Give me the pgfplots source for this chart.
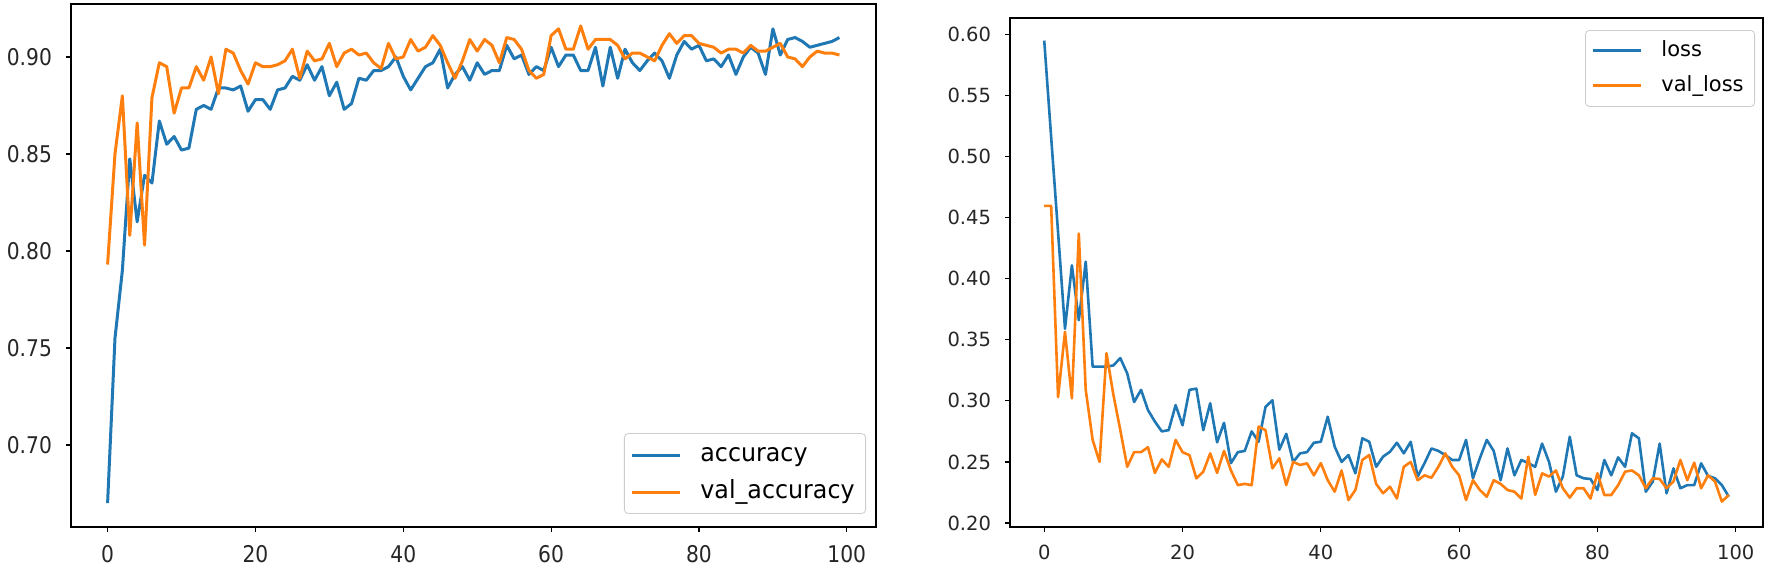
\documentclass[border=0pt]{standalone}
\usepackage{pgfplots}
\pgfplotsset{compat=1.18}
\usepackage{pgfplotstable}
\usepackage{fontspec}
\setmainfont{DejaVu Sans}
\newfontfamily\condfont[FakeStretch=0.88]{DejaVu Sans}
\newfontfamily\legfont[FakeStretch=0.95]{DejaVu Sans}

\definecolor{tabblue}{HTML}{1F77B4}
\definecolor{taborange}{HTML}{FF7F0E}

% epoch, accuracy, val_accuracy
\pgfplotstableread{
ep acc val
0 0.670 0.793
1 0.755 0.850
2 0.790 0.880
3 0.8475 0.808
4 0.815 0.866
5 0.839 0.803
6 0.835 0.879
7 0.867 0.897
8 0.855 0.895
9 0.859 0.871
10 0.852 0.884
11 0.853 0.884
12 0.873 0.895
13 0.875 0.888
14 0.873 0.900
15 0.884 0.881
16 0.884 0.904
17 0.883 0.902
18 0.885 0.893
19 0.872 0.886
20 0.878 0.897
21 0.878 0.895
22 0.873 0.895
23 0.883 0.896
24 0.884 0.898
25 0.890 0.904
26 0.888 0.889
27 0.896 0.903
28 0.888 0.898
29 0.895 0.899
30 0.880 0.907
31 0.887 0.895
32 0.873 0.902
33 0.876 0.904
34 0.889 0.901
35 0.888 0.902
36 0.893 0.897
37 0.893 0.894
38 0.895 0.907
39 0.900 0.899
40 0.890 0.900
41 0.883 0.909
42 0.889 0.903
43 0.895 0.905
44 0.897 0.911
45 0.904 0.906
46 0.884 0.897
47 0.891 0.889
48 0.895 0.898
49 0.888 0.909
50 0.897 0.903
51 0.891 0.909
52 0.893 0.906
53 0.893 0.897
54 0.906 0.910
55 0.899 0.909
56 0.901 0.904
57 0.891 0.893
58 0.895 0.889
59 0.893 0.891
60 0.905 0.911
61 0.895 0.9145
62 0.901 0.904
63 0.901 0.904
64 0.893 0.916
65 0.893 0.904
66 0.905 0.909
67 0.885 0.909
68 0.905 0.909
69 0.889 0.906
70 0.904 0.899
71 0.897 0.902
72 0.893 0.902
73 0.898 0.900
74 0.902 0.898
75 0.898 0.906
76 0.889 0.912
77 0.901 0.907
78 0.908 0.911
79 0.904 0.911
80 0.906 0.907
81 0.898 0.906
82 0.899 0.905
83 0.895 0.902
84 0.901 0.904
85 0.891 0.904
86 0.900 0.902
87 0.905 0.906
88 0.902 0.903
89 0.891 0.903
90 0.9145 0.905
91 0.901 0.907
92 0.909 0.900
93 0.910 0.899
94 0.908 0.895
95 0.905 0.900
96 0.906 0.903
97 0.907 0.902
98 0.908 0.902
99 0.910 0.901
}\acctable

% epoch, loss, val_loss
\pgfplotstableread{
ep loss val
0 0.595 0.4597
1 0.516 0.4597
2 0.438 0.303
3 0.359 0.3565
4 0.411 0.302
5 0.366 0.437
6 0.414 0.309
7 0.328 0.268
8 0.328 0.250
9 0.328 0.339
10 0.329 0.305
11 0.335 0.276
12 0.3225 0.246
13 0.299 0.258
14 0.309 0.258
15 0.2925 0.262
16 0.283 0.241
17 0.275 0.252
18 0.276 0.246
19 0.2965 0.268
20 0.280 0.258
21 0.309 0.2555
22 0.310 0.2365
23 0.276 0.242
24 0.298 0.257
25 0.266 0.241
26 0.282 0.259
27 0.249 0.243
28 0.258 0.231
29 0.259 0.232
30 0.275 0.231
31 0.2665 0.279
32 0.295 0.276
33 0.3005 0.2447
34 0.260 0.253
35 0.273 0.231
36 0.250 0.250
37 0.257 0.2475
38 0.258 0.2488
39 0.2657 0.239
40 0.2665 0.249
41 0.287 0.235
42 0.2625 0.2256
43 0.250 0.243
44 0.2556 0.2188
45 0.2407 0.227
46 0.2693 0.2516
47 0.2665 0.2556
48 0.246 0.232
49 0.2543 0.2243
50 0.2583 0.2297
51 0.2657 0.220
52 0.257 0.246
53 0.2665 0.250
54 0.238 0.235
55 0.249 0.239
56 0.261 0.237
57 0.259 0.246
58 0.2556 0.257
59 0.2516 0.246
60 0.2516 0.239
61 0.268 0.2188
62 0.2366 0.235
63 0.253 0.227
64 0.268 0.2215
65 0.259 0.235
66 0.235 0.232
67 0.261 0.227
68 0.239 0.2256
69 0.2516 0.220
70 0.249 0.2543
71 0.246 0.223
72 0.265 0.2406
73 0.250 0.238
74 0.2256 0.243
75 0.238 0.2284
76 0.2706 0.2207
77 0.239 0.2284
78 0.2366 0.2284
79 0.236 0.220
80 0.227 0.2407
81 0.2516 0.2229
82 0.239 0.2229
83 0.2537 0.231
84 0.246 0.242
85 0.2734 0.243
86 0.2693 0.239
87 0.2256 0.2284
88 0.2338 0.2366
89 0.265 0.236
90 0.2243 0.2284
91 0.2447 0.234
92 0.2284 0.2516
93 0.231 0.235
94 0.231 0.2494
95 0.2488 0.2284
96 0.2385 0.239
97 0.2366 0.234
98 0.231 0.2175
99 0.2215 0.2229
}\losstable

\pgfplotsset{
  mpl/.style={
    scale only axis,
    anchor=south west,
    xmin=-4.95, xmax=103.95,
    xtick={0,20,40,60,80,100},
    tick align=outside,
    xtick pos=left, ytick pos=left,
    major tick length=2.5pt,
    tick style={black, line width=0.6pt},
    axis line style={line width=0.8pt},
    /pgf/number format/assume math mode=true,
    ticklabel style={text=black!85},
    yticklabel style={/pgf/number format/fixed, /pgf/number format/fixed zerofill, /pgf/number format/precision=2},
    xticklabel style={/pgf/number format/fixed, /pgf/number format/precision=0},
    legend cell align=left,
    legend image code/.code={
      \draw[#1, line width=1.5pt] (0pt,0pt) -- (24pt,0pt);
    },
  },
  mpllegend/.style={
    draw=black!20, rounded corners=2pt, fill=white, fill opacity=0.8, text opacity=1,
    inner xsep=3pt, inner ysep=2pt, row sep=1pt,
    /tikz/every odd column/.append style={column sep=7pt},
  },
}

\begin{document}
\begin{tikzpicture}
\path[use as bounding box] (0pt,0pt) rectangle (885pt,283.5pt);

\begin{axis}[mpl,
  at={(35.5pt,20pt)}, width=402.5pt, height=261.5pt,
  ymin=0.6577, ymax=0.9273,
  ytick={0.70,0.75,0.80,0.85,0.90},
  ticklabel style={font=\condfont\fontsize{11.5}{13}\selectfont},
  yticklabel style={xshift=-3.5pt},
  xticklabel style={yshift=-3pt},
  legend style={mpllegend, at={(rel axis cs:0.9876,0.0249)}, anchor=south east,
    font=\legfont\fontsize{12.5}{14}\selectfont,
    nodes={text height=9.5pt, text depth=3pt, inner sep=2.5pt}},
]
\addplot[tabblue, line width=1.5pt, line join=round] table[x=ep, y=acc] {\acctable};
\addlegendentry{accuracy}
\addplot[taborange, line width=1.5pt, line join=round] table[x=ep, y=val] {\acctable};
\addlegendentry{val\_accuracy}
\end{axis}

\begin{axis}[mpl,
  at={(505pt,20pt)}, width=376.5pt, height=254.5pt,
  ymin=0.1967, ymax=0.6135,
  ytick={0.20,0.25,0.30,0.35,0.40,0.45,0.50,0.55,0.60},
  ticklabel style={font=\fontsize{9.75}{11}\selectfont},
  yticklabel style={xshift=-3.5pt},
  xticklabel style={yshift=-3pt},
  legend style={mpllegend, at={(rel axis cs:0.9894,0.9764)}, anchor=north east,
    font=\fontsize{10.5}{12}\selectfont,
    nodes={text height=8.5pt, text depth=3pt, inner sep=2.5pt}},
]
\addplot[tabblue, line width=1.3pt, line join=round] table[x=ep, y=loss] {\losstable};
\addlegendentry{loss}
\addplot[taborange, line width=1.3pt, line join=round] table[x=ep, y=val] {\losstable};
\addlegendentry{val\_loss}
\end{axis}
\end{tikzpicture}
\end{document}
